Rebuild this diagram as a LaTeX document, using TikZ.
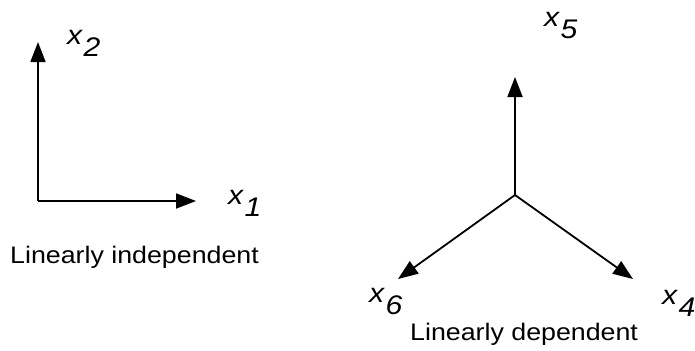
\documentclass[tikz,border=0pt]{standalone}
\usepackage{fontspec}
\setmainfont[FakeStretch=1.12]{Liberation Sans}
\usetikzlibrary{arrows.meta}
\newcommand{\veclab}[1]{\textit{x}\kern0.5bp\raisebox{-12bp}{\textit{#1}}}
\begin{document}
\begin{tikzpicture}[x=1bp,y=-1bp,
  vec/.style={line width=1.8bp,-{Triangle[length=20bp,width=15bp]}},
  lab/.style={anchor=base west,inner sep=0pt,font=\fontsize{27}{30}\selectfont},
  captext/.style={anchor=base west,inner sep=0pt,font=\fontsize{24}{28}\selectfont}]
\useasboundingbox (0,0) rectangle (695,350);
% left: linearly independent
\coordinate (o1) at (38,201);
\coordinate (t2) at (38,42);
\coordinate (t1) at (196,201);
\draw[vec] (o1) -- (t2);
\draw[vec] (o1) -- (t1);
\node[lab] (l2) at (67,44) {\veclab{2}};
\node[lab] (l1) at (228,204) {\veclab{1}};
\node[captext] (ci) at (10,263) {Linearly independent};
% right: linearly dependent
\coordinate (o2) at (515,195);
\coordinate (t5) at (515,77);
\coordinate (t6) at (398,279);
\coordinate (t4) at (633,279);
\draw[vec] (o2) -- (t5);
\draw[vec] (o2) -- (t6);
\draw[vec] (o2) -- (t4);
\node[lab] (l5) at (544,26) {\veclab{5}};
\node[lab] (l6) at (369,302) {\veclab{6}};
\node[lab] (l4) at (662,304) {\veclab{4}};
\node[captext] (cd) at (410,340) {Linearly dependent};
\end{tikzpicture}
\end{document}
